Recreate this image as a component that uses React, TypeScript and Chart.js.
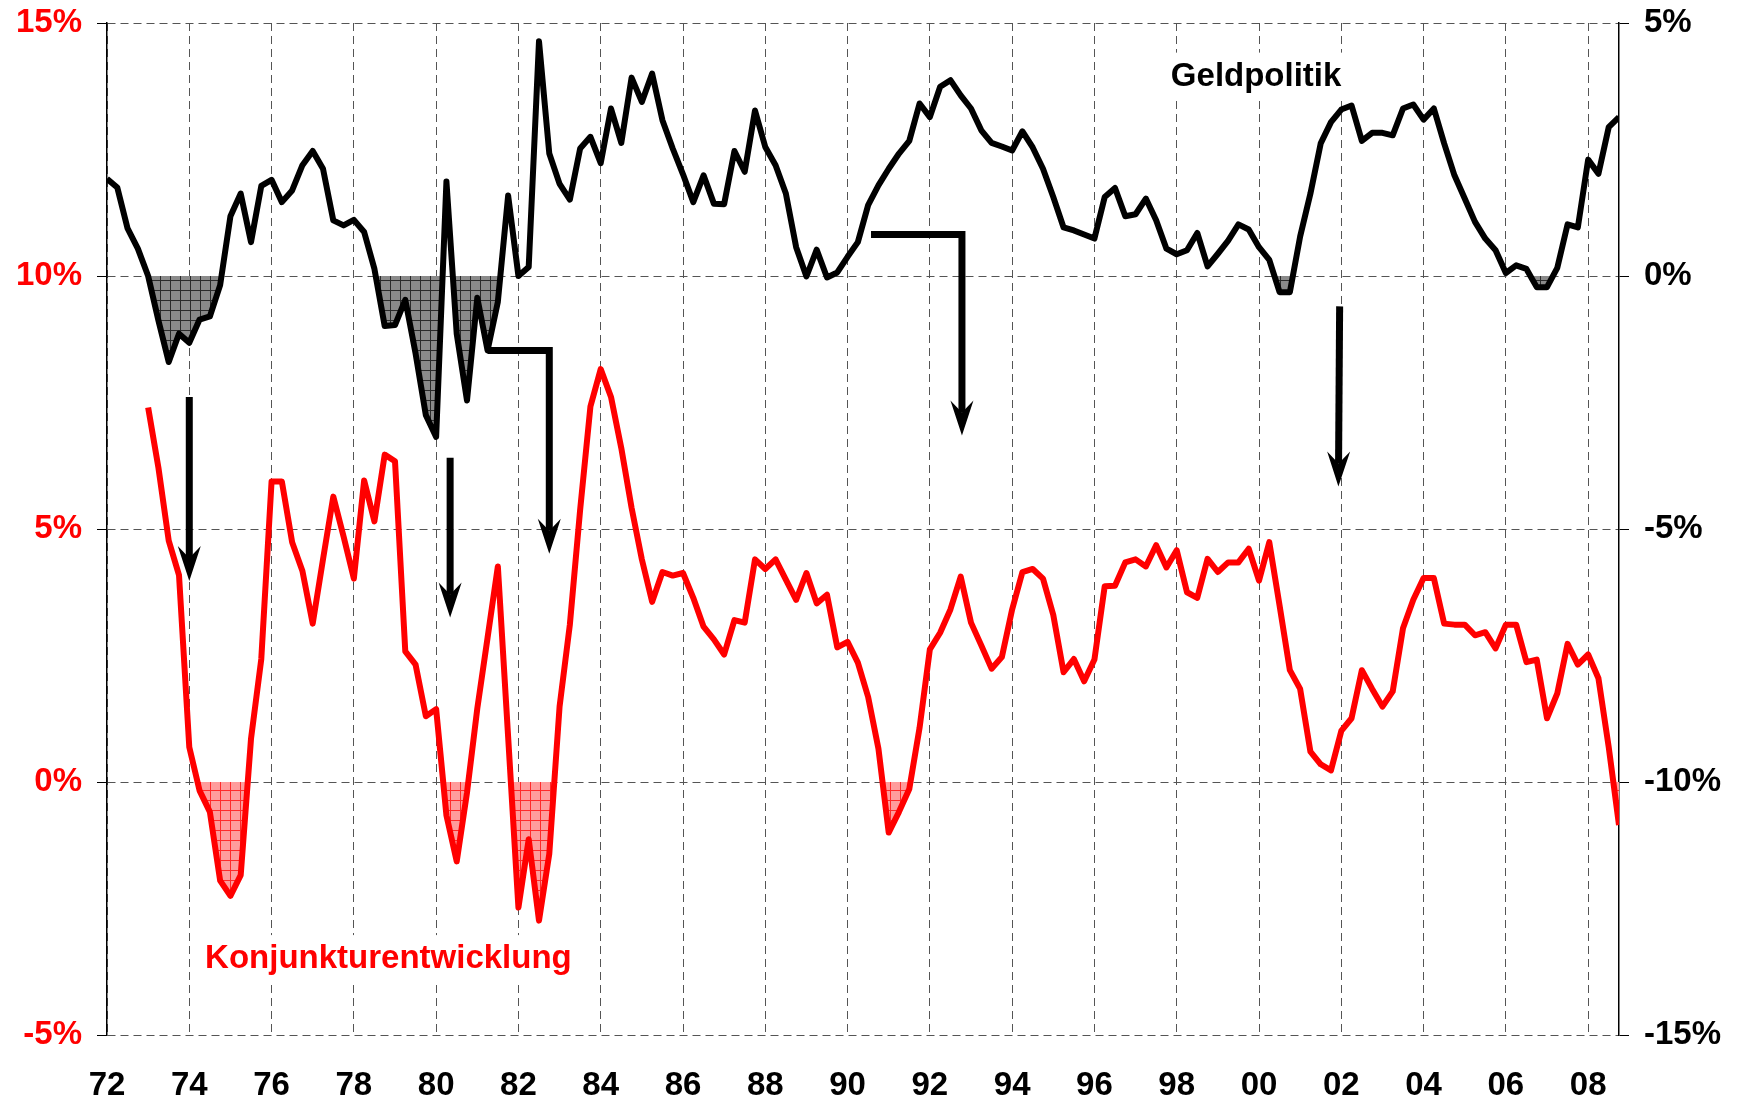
import React, { useEffect, useRef } from "react";
import { Chart, registerables } from "chart.js";

Chart.register(...registerables);

// Quarterly series
const GELD_START_YEAR = 1972; // Geldpolitik starts 1972 Q1 (right axis, %)
const KONJ_START_YEAR = 1973; // Konjunkturentwicklung starts 1973 Q1 (left axis, %)

const geldpolitik: number[] = [
  1.92, 1.75, 0.94, 0.54,
  0.0, -0.88, -1.7, -1.14,
  -1.32, -0.86, -0.8, -0.18,
  1.18, 1.63, 0.67, 1.78,
  1.9, 1.46, 1.69, 2.19,
  2.47, 2.12, 1.1, 1.0,
  1.11, 0.87, 0.14, -0.99,
  -0.97, -0.47, -1.53, -2.75,
  -3.18, 1.87, -1.14, -2.46,
  -0.43, -1.47, -0.51, 1.59,
  0.0, 0.18, 4.64, 2.42,
  1.82, 1.51, 2.52, 2.75,
  2.23, 3.31, 2.63, 3.92,
  3.44, 4.0, 3.08, 2.52,
  2.01, 1.46, 1.99, 1.43,
  1.42, 2.47, 2.06, 3.27,
  2.55, 2.19, 1.63, 0.57,
  -0.01, 0.52, -0.03, 0.07,
  0.38, 0.67, 1.4, 1.79,
  2.12, 2.42, 2.67, 3.41,
  3.14, 3.74, 3.87, 3.57,
  3.31, 2.88, 2.63, 2.56,
  2.48, 2.86, 2.54, 2.12,
  1.56, 0.96, 0.9, 0.82,
  0.74, 1.56, 1.74, 1.18,
  1.22, 1.53, 1.1, 0.54,
  0.43, 0.51, 0.85, 0.19,
  0.44, 0.7, 1.02, 0.92,
  0.57, 0.32, -0.32, -0.32,
  0.78, 1.63, 2.62, 3.04,
  3.29, 3.37, 2.67, 2.83,
  2.83, 2.78, 3.31, 3.39,
  3.09, 3.31, 2.62, 1.99,
  1.53, 1.07, 0.74, 0.51,
  0.06, 0.21, 0.14, -0.22,
  -0.22, 0.16, 1.02, 0.96,
  2.3, 2.02, 2.94, 3.14,
];

const konjunktur: number[] = [
  7.4, 6.21, 4.77, 4.09,
  0.69, -0.17, -0.59, -1.95,
  -2.25, -1.84, 0.85, 2.43,
  5.94, 5.94, 4.74, 4.17,
  3.13, 4.4, 5.64, 4.85,
  4.02, 5.96, 5.15, 6.47,
  6.34, 2.58, 2.32, 1.3,
  1.44, -0.66, -1.57, -0.21,
  1.45, 2.85, 4.26, 0.89,
  -2.48, -1.13, -2.74, -1.42,
  1.49, 3.11, 5.38, 7.42,
  8.16, 7.61, 6.6, 5.42,
  4.4, 3.56, 4.15, 4.08,
  4.13, 3.64, 3.07, 2.82,
  2.52, 3.2, 3.15, 4.4,
  4.21, 4.4, 4.0, 3.6,
  4.13, 3.53, 3.7, 2.66,
  2.77, 2.36, 1.68, 0.66,
  -1.0, -0.59, -0.14, 1.07,
  2.62, 2.95, 3.41, 4.06,
  3.15, 2.7, 2.24, 2.47,
  3.41, 4.15, 4.21, 4.02,
  3.3, 2.17, 2.43, 1.99,
  2.42, 3.87, 3.88, 4.34,
  4.4, 4.26, 4.68, 4.24,
  4.58, 3.75, 3.64, 4.41,
  4.15, 4.34, 4.34, 4.61,
  3.98, 4.74, 3.49, 2.21,
  1.84, 0.6, 0.35, 0.23,
  1.01, 1.26, 2.21, 1.84,
  1.49, 1.79, 3.04, 3.6,
  4.03, 4.03, 3.13, 3.11,
  3.11, 2.9, 2.96, 2.64,
  3.11, 3.11, 2.37, 2.42,
  1.26, 1.75, 2.73, 2.32,
  2.52, 2.05, 0.69, -0.85,
];

const xTickYears = [
  1972, 1974, 1976, 1978, 1980, 1982, 1984, 1986, 1988, 1990,
  1992, 1994, 1996, 1998, 2000, 2002, 2004, 2006, 2008,
];
const X_MIN = 1972;
const X_MAX = 2008.75;
const leftTicks = [-5, 0, 5, 10, 15];
const rightTicks = [-15, -10, -5, 0, 5];

// Annotation arrows in data units (year, left-axis %); last point = tip
const arrow74 = [[1974.0, 7.61], [1974.0, 3.97]];
const arrow80 = [[1980.34, 6.41], [1980.34, 3.25]];
const arrow82 = [[1981.25, 8.53], [1982.75, 8.53], [1982.75, 4.51]];
const arrow92 = [[1990.57, 10.82], [1992.78, 10.82], [1992.78, 6.85]];
const arrow02 = [[2001.96, 9.4], [2001.93, 5.84]];
const arrows = [arrow74, arrow80, arrow82, arrow92, arrow02];

const textLabels = [
  { text: "Geldpolitik", x: 1999.93, y: 13.96, color: "#000000" },
  { text: "Konjunkturentwicklung", x: 1978.84, y: -3.48, color: "#ff0000" },
];

const FONT = '"Liberation Sans", Arial, Helvetica, sans-serif';
const TICK_FONT = { family: FONT, size: 33, weight: "bold" };

function makePattern(base: string, line: string, size: number) {
  const c = document.createElement("canvas");
  c.width = size;
  c.height = size;
  const g = c.getContext("2d")!;
  g.fillStyle = base;
  g.fillRect(0, 0, size, size);
  g.fillStyle = line;
  g.fillRect(0, 0, size, 1);
  g.fillRect(0, 0, 1, size);
  return g.createPattern(c, "repeat");
}

function drawArrow(ctx: CanvasRenderingContext2D, pts: number[][]) {
  const n = pts.length;
  const [tx, ty] = pts[n - 1];
  const [px, py] = pts[n - 2];
  const len = Math.hypot(tx - px, ty - py) || 1;
  const dx = (tx - px) / len;
  const dy = (ty - py) / len;
  const L = 35, W = 11.5, N = 23;
  ctx.beginPath();
  ctx.moveTo(pts[0][0], pts[0][1]);
  for (let i = 1; i < n - 1; i++) ctx.lineTo(pts[i][0], pts[i][1]);
  ctx.lineTo(tx - dx * N, ty - dy * N);
  ctx.lineWidth = 7;
  ctx.strokeStyle = "#000";
  ctx.lineJoin = "miter";
  ctx.lineCap = "butt";
  ctx.stroke();
  ctx.beginPath();
  ctx.moveTo(tx, ty);
  ctx.lineTo(tx - dx * L - dy * W, ty - dy * L + dx * W);
  ctx.lineTo(tx - dx * N, ty - dy * N);
  ctx.lineTo(tx - dx * L + dy * W, ty - dy * L - dx * W);
  ctx.closePath();
  ctx.fillStyle = "#000";
  ctx.fill();
}

const overlayPlugin = {
  id: "overlay",
  afterDatasetsDraw(chart: any) {
    const ctx: CanvasRenderingContext2D = chart.ctx;
    const xs = chart.scales.x;
    const ys = chart.scales.y;
    ctx.save();
    ctx.font = `bold 33px ${FONT}`;
    ctx.textAlign = "center";
    ctx.textBaseline = "middle";
    for (const l of textLabels) {
      const px = xs.getPixelForValue(l.x);
      const py = ys.getPixelForValue(l.y);
      const w = ctx.measureText(l.text).width;
      ctx.fillStyle = "#ffffff";
      ctx.fillRect(px - w / 2 - 8, py - 23, w + 16, 46);
      ctx.fillStyle = l.color;
      ctx.fillText(l.text, px, py + 1);
    }
    for (const a of arrows) {
      const pts = a.map(([vx, vy]) => [xs.getPixelForValue(vx), ys.getPixelForValue(vy)]);
      drawArrow(ctx, pts);
    }
    ctx.restore();
  },
};

export default function App() {
  const canvasRef = useRef<HTMLCanvasElement | null>(null);

  useEffect(() => {
    const canvas = canvasRef.current;
    if (!canvas) return;
    const grayPattern = makePattern("#8a8a8a", "#2a2a2a", 10);
    const redPattern = makePattern("#ff9c9c", "#ff2a2a", 10);

    const geldPoints = geldpolitik.map((v, i) => ({ x: GELD_START_YEAR + i * 0.25, y: v }));
    const konjPoints = konjunktur.map((v, i) => ({ x: KONJ_START_YEAR + i * 0.25, y: v }));

    const chart = new Chart(canvas, {
      type: "line",
      data: {
        datasets: [
          {
            label: "Geldpolitik",
            data: geldPoints,
            yAxisID: "y2",
            borderColor: "#000000",
            borderWidth: 6,
            pointRadius: 0,
            tension: 0,
            borderJoinStyle: "round",
            fill: { target: "origin", above: "rgba(0,0,0,0)", below: grayPattern },
          } as any,
          {
            label: "Konjunkturentwicklung",
            data: konjPoints,
            yAxisID: "y",
            borderColor: "#ff0000",
            borderWidth: 6,
            pointRadius: 0,
            tension: 0,
            borderJoinStyle: "round",
            fill: { target: "origin", above: "rgba(0,0,0,0)", below: redPattern },
          } as any,
        ],
      },
      options: {
        responsive: false,
        animation: false,
        devicePixelRatio: 1,
        layout: { padding: { top: 23, left: 0, right: 0, bottom: 0 } },
        plugins: {
          legend: { display: false },
          tooltip: { enabled: false },
        },
        scales: {
          x: {
            type: "linear",
            min: X_MIN,
            max: X_MAX,
            afterBuildTicks: (s: any) => {
              s.ticks = xTickYears.map((v) => ({ value: v }));
            },
            afterFit: (s: any) => {
              s.height = 68;
              s.paddingLeft = 0;
              s.paddingRight = 0;
            },
            ticks: {
              autoSkip: false,
              maxRotation: 0,
              padding: 31,
              color: "#000",
              font: TICK_FONT,
              callback: (v: any) => String(Math.round(Number(v)) % 100).padStart(2, "0"),
            },
            grid: { color: "#555555", lineWidth: 1, drawTicks: false },
            border: { display: false, dash: [8, 5] },
          },
          y: {
            type: "linear",
            position: "left",
            min: -5,
            max: 15,
            afterBuildTicks: (s: any) => {
              s.ticks = leftTicks.map((v) => ({ value: v }));
            },
            afterFit: (s: any) => {
              s.width = 107;
              s.paddingTop = 0;
              s.paddingBottom = 0;
            },
            ticks: {
              padding: 15,
              color: "#ff0000",
              font: TICK_FONT,
              callback: (v: any) => `${v}%`,
            },
            grid: { color: "#555555", lineWidth: 1, drawTicks: true, tickLength: 10, tickColor: "#000" },
            border: { display: true, color: "#000", width: 1.5, dash: [8, 5] },
          },
          y2: {
            type: "linear",
            position: "right",
            min: -15,
            max: 5,
            afterBuildTicks: (s: any) => {
              s.ticks = rightTicks.map((v) => ({ value: v }));
            },
            afterFit: (s: any) => {
              s.width = 119;
              s.paddingTop = 0;
              s.paddingBottom = 0;
            },
            ticks: {
              padding: 15,
              color: "#000",
              font: TICK_FONT,
              callback: (v: any) => `${v}%`,
            },
            grid: { drawOnChartArea: false, drawTicks: true, tickLength: 10, tickColor: "#000", color: "#000" },
            border: { display: true, color: "#000", width: 1.5 },
          },
        },
      } as any,
      plugins: [overlayPlugin as any],
    });
    return () => chart.destroy();
  }, []);

  return (
    <div style={{ position: "absolute", left: 0, top: 0, width: 1738, height: 1103, background: "#fff" }}>
      <canvas ref={canvasRef} width={1738} height={1103} style={{ width: 1738, height: 1103, display: "block" }} />
    </div>
  );
}
